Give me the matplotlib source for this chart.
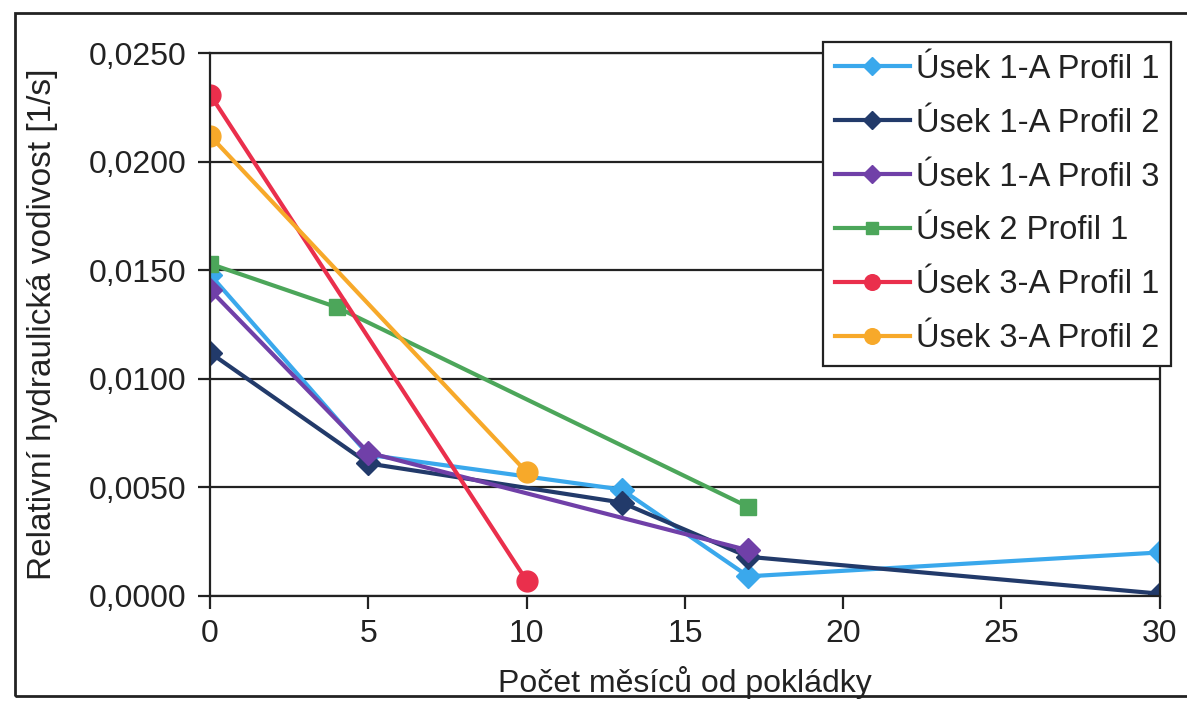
import matplotlib.pyplot as plt
from matplotlib.ticker import FuncFormatter, MultipleLocator
from matplotlib.patches import Rectangle

plt.rcParams['font.family'] = ['Liberation Sans', 'DejaVu Sans']

# months since installation and relative hydraulic conductivity per profile
x_1a_p1 = [0, 5, 13, 17, 30]
y_1a_p1 = [0.0148, 0.0065, 0.0049, 0.0009, 0.0020]

x_1a_p2 = [0, 5, 13, 17, 30]
y_1a_p2 = [0.0112, 0.0061, 0.0043, 0.0018, 0.0001]

x_1a_p3 = [0, 5, 17]
y_1a_p3 = [0.0141, 0.0066, 0.0021]

x_2_p1 = [0, 4, 17]
y_2_p1 = [0.0153, 0.0133, 0.0041]

x_3a_p1 = [0, 10]
y_3a_p1 = [0.0231, 0.0007]

x_3a_p2 = [0, 10]
y_3a_p2 = [0.0212, 0.0057]

labels = ['Úsek 1-A Profil 1', 'Úsek 1-A Profil 2', 'Úsek 1-A Profil 3',
          'Úsek 2 Profil 1', 'Úsek 3-A Profil 1', 'Úsek 3-A Profil 2']

fig = plt.figure(figsize=(11.87, 7.01), dpi=100)
ax = fig.add_axes([0.177, 0.150, 0.800, 0.774])

# frame around the chart, right side runs off the page
fig.patches.append(Rectangle((0.013, 0.007), 1.0, 0.975, transform=fig.transFigure,
                             fill=False, edgecolor='#222222', linewidth=2))

ax.plot(x_1a_p1, y_1a_p1, color='#3aa8ec', marker='D', markersize=12, lw=3, label=labels[0])
ax.plot(x_1a_p2, y_1a_p2, color='#223a6a', marker='D', markersize=12, lw=3, label=labels[1])
ax.plot(x_1a_p3, y_1a_p3, color='#7040a8', marker='D', markersize=12, lw=3, label=labels[2])
ax.plot(x_2_p1, y_2_p1, color='#4ca65a', marker='s', markersize=11, lw=3, label=labels[3])
ax.plot(x_3a_p1, y_3a_p1, color='#ea2f4c', marker='o', markersize=15, lw=3, label=labels[4])
ax.plot(x_3a_p2, y_3a_p2, color='#f7a92a', marker='o', markersize=15, lw=3, label=labels[5])

ax.set_xlim(0, 30)
ax.set_ylim(0, 0.025)
ax.xaxis.set_major_locator(MultipleLocator(5))
ax.yaxis.set_major_locator(MultipleLocator(0.005))
ax.yaxis.set_major_formatter(FuncFormatter(lambda v, p: f'{v:.4f}'.replace('.', ',')))
ax.grid(axis='y', color='#222222', linewidth=1.6)
ax.set_axisbelow(True)
for s in ax.spines.values():
    s.set_linewidth(1.6)
    s.set_color('#222222')
ax.tick_params(direction='out', length=9, width=1.6, labelsize=23, pad=8,
               colors='#222222')

ax.set_xlabel('Počet měsíců od pokládky', fontsize=23, labelpad=12, color='#222222')
ax.set_ylabel('Relativní hydraulická vodivost [1/s]', fontsize=24, labelpad=22,
              color='#222222')

leg = ax.legend(loc='upper right', bbox_to_anchor=(1.012, 1.02), fontsize=23.5,
                frameon=True, fancybox=False, framealpha=1, edgecolor='#222222',
                handlelength=2.3, handletextpad=0.2, labelspacing=0.7,
                borderpad=0.35, borderaxespad=0, markerscale=0.75)
leg.get_frame().set_linewidth(1.6)
for t in leg.get_texts():
    t.set_color('#222222')

fig.savefig('out.png', dpi=100)
